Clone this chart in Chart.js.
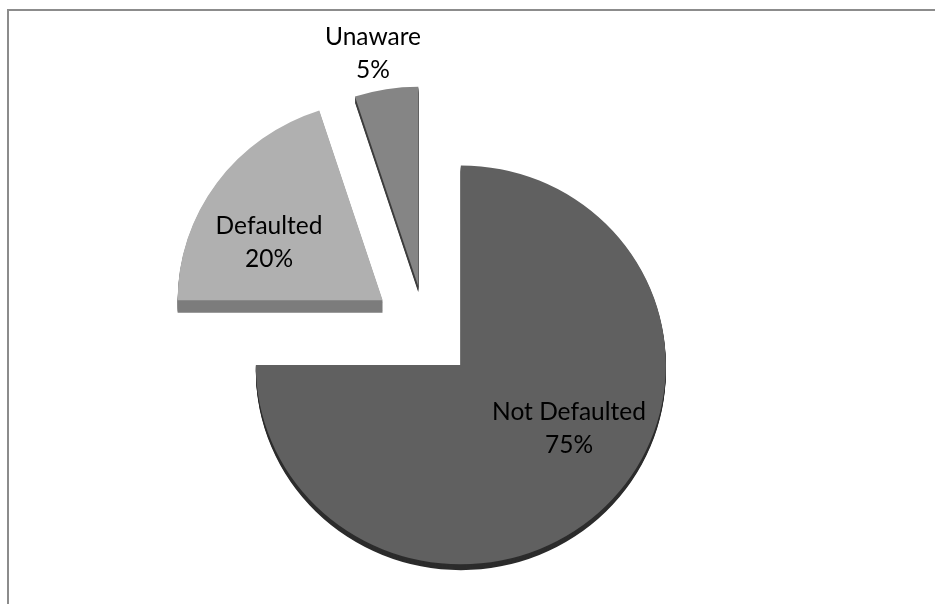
<!DOCTYPE html>
<html>
<head>
<meta charset="utf-8">
<title>Default status</title>
<script src="https://cdn.jsdelivr.net/npm/chart.js@4"></script>
<style>
    body { margin: 0; background: #fff; overflow: hidden; }
    #wrap { position: relative; width: 935px; height: 604px; }
    #frame { position: absolute; left: 7px; top: 9px; right: 0; bottom: 0; border-top: 2px solid #8c8c8c; border-left: 2px solid #8c8c8c; }
    #chart { position: absolute; left: 0; top: 0; }
</style>
</head>
<body>
<div id="wrap">
    <div id="frame"></div>
    <canvas id="chart" width="935" height="604"></canvas>
</div>
<script>
// Werte
const categories = ["Not Defaulted", "Defaulted", "Unaware"];
const shares = [75, 20, 5];

const faceColors = ["#606060", "#b0b0b0", "#858585"];
const sideColors = ["#2c2c2c", "#7c7c7c", "#3e3e3e"];
const explode = [50, 53, 46];
const depths = [6, 13, 6];
const labelCentres = [[569, 428.5], [269, 243], [373, 54]];

const squash = 0.973;

const fakePie3d = {
    id: 'fakePie3d',
    afterDatasetsUpdate(chart) {
        /*
            Rückt die Stücke nach aussen. Die offset Option von Chart.js vergrössert auch den Radius, darum von Hand.
         */
        let arcs = chart.getDatasetMeta(0).data;
        for (let i = 0; i < arcs.length; i++) {
            let mid = (arcs[i].startAngle + arcs[i].endAngle) / 2;
            arcs[i].x += Math.cos(mid) * explode[i];
            arcs[i].y += Math.sin(mid) * explode[i];
        }
    },
    beforeDatasetsDraw(chart) {
        /*
            Staucht den Kreis etwas und zeichnet die dunkle Seitenfläche unter die Stücke.
         */
        const ctx = chart.ctx;
        const arcs = chart.getDatasetMeta(0).data;
        const cy = (chart.chartArea.top + chart.chartArea.bottom) / 2;

        ctx.save();
        ctx.translate(0, cy);
        ctx.scale(1, squash);
        ctx.translate(0, -cy);

        for (let i = 0; i < arcs.length; i++) {
            let face = arcs[i].options;
            arcs[i].options = Object.assign({}, face, {backgroundColor: sideColors[i]});
            for (let d = depths[i]; d >= 1; d--) {
                ctx.save();
                ctx.translate(0, d);
                arcs[i].draw(ctx);
                ctx.restore();
            }
            arcs[i].options = face;
        }
    },
    afterDatasetsDraw(chart) {
        const ctx = chart.ctx;
        ctx.restore();

        ctx.save();
        ctx.fillStyle = "#000";
        ctx.font = '24.5px Lato';
        ctx.textAlign = 'center';
        ctx.textBaseline = 'middle';
        for (let i = 0; i < categories.length; i++) {
            let pos = labelCentres[i];
            ctx.fillText(categories[i], pos[0], pos[1] - 16.5);
            ctx.fillText(shares[i] + '%', pos[0], pos[1] + 16.5);
        }
        ctx.restore();
    }
};

new Chart(document.getElementById('chart'), {
    type: 'pie',
    plugins: [fakePie3d],
    data: {
        labels: categories,
        datasets: [{
            data: shares,
            backgroundColor: faceColors,
            borderWidth: 0,
            clip: false
        }]
    },
    options: {
        responsive: false,
        animation: false,
        radius: 205,
        layout: {padding: {left: 0, right: 84, top: 57, bottom: 0}},
        plugins: {legend: {display: false}, tooltip: {enabled: false}}
    }
});
</script>
</body>
</html>
